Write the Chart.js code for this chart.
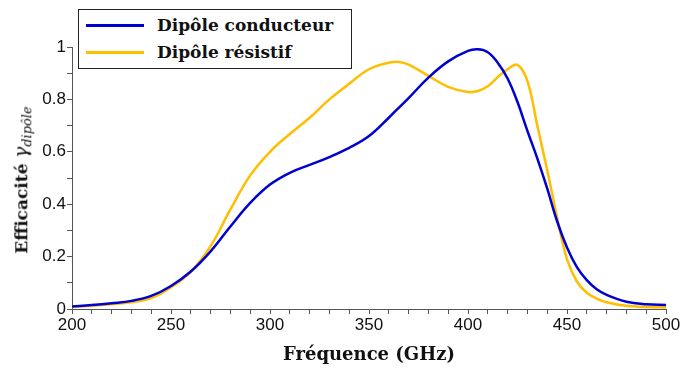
<!DOCTYPE html>
<html>
<head>
<meta charset="utf-8">
<script src="https://cdn.jsdelivr.net/npm/chart.js@4.4.0/dist/chart.umd.min.js"></script>
<style>
    html, body { margin: 0; padding: 0; background: #fff; }
    #wrap { position: relative; width: 682px; height: 370px; }
    #legend {
        position: absolute; left: 78px; top: 9px; width: 272px; height: 58px;
        border: 1px solid #222; background: #fff;
        font-family: "DejaVu Serif", "Liberation Serif", serif; font-weight: bold; font-size: 17px;
    }
    #legend .row { position: absolute; left: 0; height: 26px; line-height: 26px; }
    #legend .swatch { position: absolute; left: 7px; top: 12px; width: 58px; height: 0; border-top: 3px solid; }
    #legend .txt { position: absolute; left: 78px; white-space: nowrap; color: #111; }
    #ytitle {
        position: absolute; left: 22px; top: 180px; white-space: nowrap;
        transform: translate(-50%, -50%) rotate(-90deg);
        font-family: "DejaVu Serif", "Liberation Serif", serif; font-size: 17px; color: #111;
    }
    #ytitle b { font-weight: bold; }
    #ytitle i { font-size: 19px; }
    #ytitle sub { font-size: 13px; font-style: italic; }
</style>
</head>
<body>
<div id="wrap">
    <canvas id="effChart" width="682" height="370"></canvas>
    <div id="ytitle"><b>Efficacité</b> <i>γ</i><sub>dipôle</sub></div>
    <div id="legend"></div>
</div>
<script>
const freqs = [200, 210, 220, 230, 240, 250, 260, 270, 280, 290, 300, 310, 320, 330, 340, 350, 360, 365, 370, 380,
    390, 400, 405, 410, 415, 420, 425, 430, 435, 440, 445, 450, 455, 460, 465, 470, 480, 490, 500];

const conducteur = [0.010, 0.015, 0.022, 0.031, 0.050, 0.088, 0.143, 0.220, 0.315, 0.405, 0.475, 0.520, 0.550, 0.580, 0.615, 0.660, 0.730, 0.768, 0.805, 0.883,
    0.945, 0.985, 0.991, 0.980, 0.940, 0.880, 0.790, 0.680, 0.575, 0.460, 0.335, 0.235, 0.160, 0.110, 0.075, 0.054, 0.028, 0.018, 0.015];

const resistif = [0.008, 0.012, 0.018, 0.026, 0.042, 0.083, 0.142, 0.240, 0.380, 0.510, 0.600, 0.668, 0.730, 0.800, 0.860, 0.915, 0.940, 0.943, 0.933, 0.890,
    0.848, 0.828, 0.832, 0.850, 0.885, 0.915, 0.932, 0.870, 0.700, 0.530, 0.350, 0.190, 0.105, 0.062, 0.040, 0.026, 0.012, 0.008, 0.006];

const xTickLabels = [200, 250, 300, 350, 400, 450, 500];
const yTickLabels = ['0', '0.2', '0.4', '0.6', '0.8', '1'];

const blue = 'rgb(0,0,210)';
const orange = 'rgb(255,190,0)';

function toPoints(values) {
    return freqs.map((f, i) => ({ x: f, y: values[i] }));
}

const tickFont = { family: '"Liberation Sans", Arial, sans-serif', size: 17 };
const titleFont = { family: '"DejaVu Serif", "Liberation Serif", serif', size: 18, weight: 'bold' };

const ctx = document.getElementById('effChart').getContext('2d');
const effChart = new Chart(ctx, {
    type: 'line',
    data: {
        datasets: [{
            label: 'Dipôle conducteur',
            data: toPoints(conducteur),
            borderColor: blue,
            backgroundColor: blue,
            borderWidth: 2.5,
            pointRadius: 0,
            tension: 0.4
        }, {
            label: 'Dipôle résistif',
            data: toPoints(resistif),
            borderColor: orange,
            backgroundColor: orange,
            borderWidth: 2.5,
            pointRadius: 0,
            tension: 0.4
        }]
    },
    options: {
        responsive: false,
        animation: false,
        layout: { padding: { top: 47, right: 16, bottom: 0, left: 0 } },
        plugins: { legend: { display: false }, tooltip: { enabled: false } },
        scales: {
            x: {
                type: 'linear',
                min: 200,
                max: 500,
                afterFit: function (scale) { scale.height = 61; },
                border: { display: true, color: '#555', width: 1 },
                grid: { drawOnChartArea: false, drawTicks: true, tickLength: 5, color: '#555' },
                ticks: {
                    stepSize: 10,
                    autoSkip: false,
                    maxRotation: 0,
                    color: '#111',
                    font: tickFont,
                    padding: 1,
                    callback: function (value) {
                        return xTickLabels.includes(value) ? String(value) : '';
                    }
                },
                title: { display: true, text: 'Fréquence (GHz)', color: '#111', font: titleFont, padding: { top: 2, bottom: 4 } }
            },
            y: {
                min: 0,
                max: 1,
                afterFit: function (scale) { scale.width = 72; },
                border: { display: true, color: '#555', width: 1 },
                grid: { drawOnChartArea: false, drawTicks: true, tickLength: 5, color: '#555' },
                ticks: {
                    stepSize: 0.1,
                    autoSkip: false,
                    color: '#111',
                    font: tickFont,
                    padding: 1,
                    callback: function (value) {
                        const label = String(Math.round(value * 10) / 10);
                        return yTickLabels.includes(label) ? label : '';
                    }
                }
            }
        }
    }
});

const legendBox = document.getElementById('legend');
effChart.data.datasets.forEach(function (ds, i) {
    const row = document.createElement('div');
    row.className = 'row';
    row.style.top = (2 + i * 27) + 'px';
    row.innerHTML = '<span class="swatch" style="border-color:' + ds.borderColor + '"></span>' +
        '<span class="txt">' + ds.label + '</span>';
    legendBox.appendChild(row);
});
</script>
</body>
</html>
